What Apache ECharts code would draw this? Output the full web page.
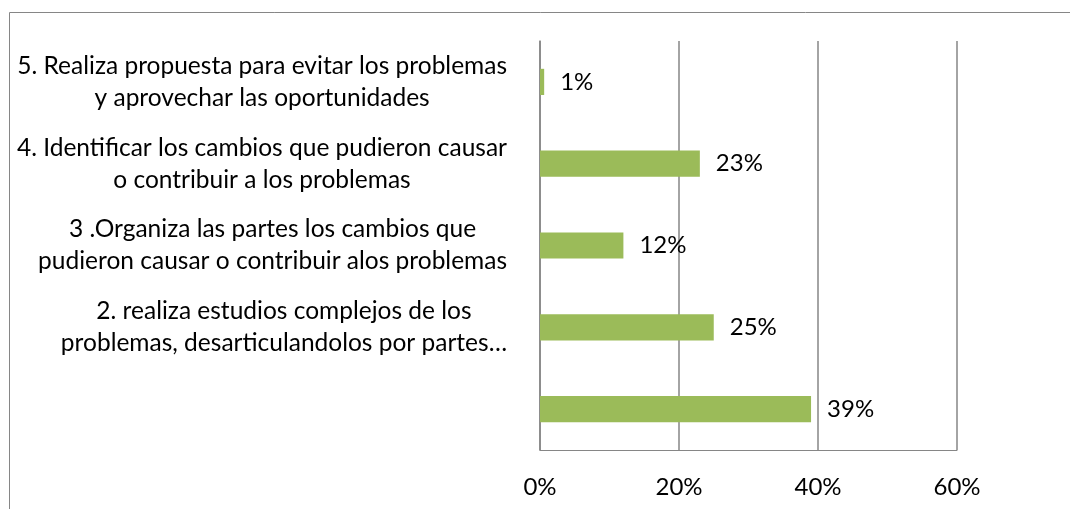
<!DOCTYPE html>
<html>
<head>
<meta charset="utf-8">
<script src="https://cdn.jsdelivr.net/npm/echarts@6/dist/echarts.min.js"></script>
<style>
    html, body { margin: 0; padding: 0; background: #fff; }
    #chart { width: 1070px; height: 509px; }
</style>
</head>
<body>
<div id="chart"></div>
<script>
// categories bottom -> top (first one has no label in the original)
var categories = [
    '',
    '2. realiza estudios complejos de los\nproblemas, desarticulandolos por partes…',
    '3 .Organiza las partes los cambios que\npudieron causar o contribuir alos problemas',
    '4. Identificar los cambios que pudieron causar\no contribuir a los problemas',
    '5. Realiza propuesta para evitar los problemas\ny aprovechar las oportunidades'
];
var values = [39, 25, 12, 23, 0.6];
var xTicks = [0, 20, 40, 60];

var font = 'Lato';
var gray = '#868686';

var chart = echarts.init(document.getElementById('chart'));

chart.setOption({
    animation: false,
    grid: { left: 540, right: 113, top: 41, bottom: 59 },
    graphic: [{
        type: 'rect',
        shape: { x: 9.5, y: 12.5, width: 1200, height: 700 },
        style: { fill: 'none', stroke: gray, lineWidth: 1 },
        silent: true
    }],
    xAxis: {
        type: 'value',
        min: xTicks[0],
        max: xTicks[xTicks.length - 1],
        interval: 20,
        axisLine: { show: true, lineStyle: { color: gray } },
        axisTick: { show: false },
        splitLine: { show: true, lineStyle: { color: gray, width: 1.5 } },
        axisLabel: {
            margin: 25,
            fontFamily: font,
            fontSize: 24,
            color: '#000',
            formatter: function (v) { return v + '%'; }
        }
    },
    yAxis: {
        type: 'category',
        data: categories,
        axisLine: { show: true, lineStyle: { color: gray, width: 1.5 } },
        axisTick: { show: false },
        axisLabel: {
            margin: 33,
            fontFamily: font,
            fontSize: 24.5,
            lineHeight: 32,
            color: '#000',
            // block right-aligned to the axis, each line centred inside it
            formatter: function (v) {
                if (!v) return '';
                return v.split('\n').map(function (s) { return '{c|' + s + '}'; }).join('\n');
            },
            rich: {
                c: { align: 'center', fontFamily: font, fontSize: 24.5, lineHeight: 32, color: '#000' }
            }
        }
    },
    series: [{
        type: 'bar',
        data: values,
        barWidth: '32%',
        itemStyle: { color: '#9BBB59' },
        label: {
            show: true,
            position: 'right',
            distance: 16,
            fontFamily: font,
            fontSize: 24,
            color: '#000',
            formatter: function (p) { return Math.round(p.value) + '%'; }
        }
    }]
});
</script>
</body>
</html>
